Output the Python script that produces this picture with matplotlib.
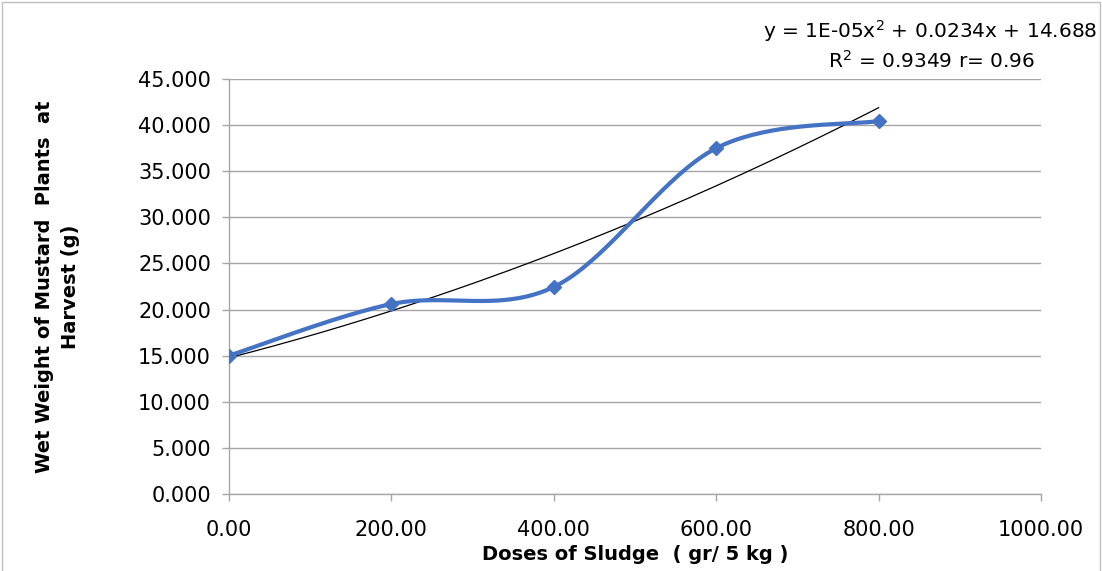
import matplotlib.pyplot as plt
import matplotlib.patches as patches
import numpy as np

# data
doses = [0, 200, 400, 600, 800]
wet_weight = [15.0, 20.6, 22.45, 37.5, 40.45]
x_ticks = [0, 200, 400, 600, 800, 1000]
y_ticks = [0, 5, 10, 15, 20, 25, 30, 35, 40, 45]
eq_text = "y = 1E-05x$^2$ + 0.0234x + 14.688"
r2_text = "R$^2$ = 0.9349 r= 0.96"

BLUE = '#4472C4'
GRID = '#A6A6A6'


def smooth_line(xs, ys, n=40):
    # excel style smoothed line: catmull-rom through the points
    xs = np.asarray(xs, float)
    ys = np.asarray(ys, float)
    px = np.concatenate([[xs[0]], xs, [xs[-1]]])
    py = np.concatenate([[ys[0]], ys, [ys[-1]]])
    out_x, out_y = [], []
    for i in range(1, len(px) - 2):
        p0, p1, p2, p3 = (np.array([px[k], py[k]]) for k in range(i - 1, i + 3))
        c1 = p1 + (p2 - p0) / 6.0
        c2 = p2 - (p3 - p1) / 6.0
        t = np.linspace(0, 1, n)[:, None]
        b = ((1 - t) ** 3) * p1 + 3 * ((1 - t) ** 2) * t * c1 + 3 * (1 - t) * t ** 2 * c2 + t ** 3 * p2
        out_x.extend(b[:, 0])
        out_y.extend(b[:, 1])
    return np.array(out_x), np.array(out_y)


fig = plt.figure(figsize=(11.02, 5.71), dpi=100)
ax = fig.add_axes([0.2078, 0.1349, 0.9446 - 0.2078, 0.8616 - 0.1349])

fig.patches.append(patches.Rectangle((0.002, -0.01), 0.996, 1.006, transform=fig.transFigure,
                                     fill=False, edgecolor='#BFBFBF', linewidth=1))

# polynomial trendline (order 2)
coef = np.polyfit(doses, wet_weight, 2)
tx = np.linspace(doses[0], doses[-1], 200)
ax.plot(tx, np.polyval(coef, tx), color='black', linewidth=0.9, zorder=3)

sx, sy = smooth_line(doses, wet_weight)
ax.plot(sx, sy, color=BLUE, linewidth=3.0, zorder=4, solid_capstyle='round')
ax.plot(doses, wet_weight, linestyle='none', marker='D', markersize=7.5,
        color=BLUE, zorder=5)

ax.set_xlim(0, 1000)
ax.set_ylim(0, 45)
ax.set_xticks(x_ticks)
ax.set_yticks(y_ticks)
ax.set_xticklabels([f"{v:.2f}" for v in x_ticks])
ax.set_yticklabels([f"{v:.3f}" for v in y_ticks])
ax.tick_params(axis='both', labelsize=15, colors=GRID, labelcolor='black',
               direction='out', length=5, width=1)
ax.tick_params(axis='x', pad=14)
ax.tick_params(axis='y', pad=8)

ax.grid(axis='y', color=GRID, linewidth=1)
ax.set_axisbelow(True)
for side in ['top', 'right']:
    ax.spines[side].set_visible(False)
for side in ['left', 'bottom']:
    ax.spines[side].set_color(GRID)
    ax.spines[side].set_linewidth(1)

ax.set_xlabel("Doses of Sludge  ( gr/ 5 kg )", fontsize=14, fontweight='bold', labelpad=3)
ax.set_ylabel("Wet Weight of Mustard  Plants  at\nHarvest (g)", fontsize=14,
              fontweight='bold', labelpad=42, linespacing=1.45)

fig.text(0.996, 0.945, eq_text, ha='right', va='center', fontsize=14.5)
fig.text(0.845, 0.893, r2_text, ha='center', va='center', fontsize=14.5)

fig.savefig('out.png', dpi=100)
